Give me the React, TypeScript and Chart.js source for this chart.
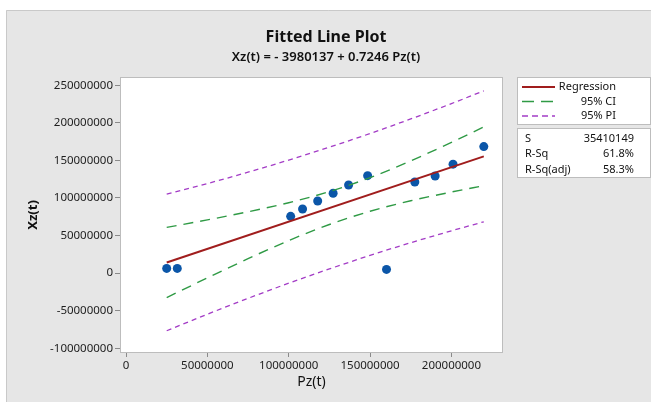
import { useEffect, useRef } from "react";
import { Chart, registerables } from "chart.js";

Chart.register(...registerables);

const pzValues = [25000000, 31500000, 101200000, 108500000, 117800000, 127300000, 136800000, 148500000, 160100000, 177500000, 190000000, 201000000, 219900000];
const xzValues = [6300000, 6300000, 75600000, 85300000, 96000000, 106300000, 117300000, 129700000, 4900000, 121300000, 129300000, 145000000, 168400000];

const fitX = [25000000, 219900000];
const fitY = [14100000, 155400000];

const bandX = [25000000, 50000000, 75000000, 100000000, 125000000, 150000000, 175000000, 200000000, 219900000];
const ciUpper = [60900000, 70800000, 81600000, 93700000, 108500000, 127100000, 149400000, 173900000, 194500000];
const ciLower = [-32600000, -6300000, 19200000, 43300000, 64700000, 82300000, 96300000, 107900000, 116400000];
const piUpper = [105000000, 119200000, 134300000, 150400000, 167600000, 185800000, 205200000, 225600000, 242600000];
const piLower = [-76700000, -54700000, -33600000, -13400000, 5600000, 23600000, 40500000, 56300000, 68300000];

const xTicks = [0, 50000000, 100000000, 150000000, 200000000];
const yTicks = [-100000000, -50000000, 0, 50000000, 100000000, 150000000, 200000000, 250000000];

const titleText = "Fitted Line Plot";
const subtitleText = "Xz(t) = - 3980137 + 0.7246 Pz(t)";
const xTitle = "Pz(t)";
const yTitle = "Xz(t)";
const legendLabels = ["Regression", "95% CI", "95% PI"];
const statLabels = ["S", "R-Sq", "R-Sq(adj)"];
const statValues = ["35410149", "61.8%", "58.3%"];

const FONT = "'Noto Sans', 'Open Sans', sans-serif";
const RED = "#a01d1d";
const GREEN = "#2f9a45";
const PURPLE = "#a33cc6";
const BLUE = "#0b56a8";

const pts = (xs: number[], ys: number[]) => xs.map((x, i) => ({ x, y: ys[i] }));

const decorPlugin = {
  id: "decor",
  beforeDraw(chart: any) {
    const ctx = chart.ctx as CanvasRenderingContext2D;
    const { width, height, chartArea: a } = chart;
    ctx.save();
    ctx.fillStyle = "#ffffff";
    ctx.fillRect(0, 0, width, height);
    ctx.fillStyle = "#e6e6e6";
    ctx.fillRect(6, 10, width - 6, height - 10);
    ctx.strokeStyle = "#c9c9c9";
    ctx.lineWidth = 1;
    ctx.beginPath();
    ctx.moveTo(6.5, height);
    ctx.lineTo(6.5, 10.5);
    ctx.lineTo(width, 10.5);
    ctx.stroke();
    ctx.fillStyle = "#ffffff";
    ctx.fillRect(a.left, a.top, a.right - a.left, a.bottom - a.top);
    ctx.strokeStyle = "#bdbdbd";
    ctx.strokeRect(a.left + 0.5, a.top + 0.5, a.right - a.left - 1, a.bottom - a.top - 1);
    ctx.restore();
  },
  afterDraw(chart: any) {
    const ctx = chart.ctx as CanvasRenderingContext2D;
    const a = chart.chartArea;
    ctx.save();
    ctx.fillStyle = "#111111";
    ctx.textAlign = "center";
    ctx.textBaseline = "middle";
    ctx.font = `bold 16px ${FONT}`;
    ctx.fillText(titleText, 326, 37);
    ctx.font = `600 13px ${FONT}`;
    ctx.fillText(subtitleText, 326, 57);

    ctx.font = `14px ${FONT}`;
    ctx.fillText(xTitle, (a.left + a.right) / 2, 382);
    ctx.save();
    ctx.translate(33, (a.top + a.bottom) / 2);
    ctx.rotate(-Math.PI / 2);
    ctx.font = `bold 13px ${FONT}`;
    ctx.fillText(yTitle, 0, 0);
    ctx.restore();

    // legend box
    const bx = 517.5, bw = 133;
    ctx.fillStyle = "#ffffff";
    ctx.strokeStyle = "#bdbdbd";
    ctx.lineWidth = 1;
    ctx.fillRect(bx, 77.5, bw, 47);
    ctx.strokeRect(bx, 77.5, bw, 47);
    ctx.fillRect(bx, 128.5, bw, 49);
    ctx.strokeRect(bx, 128.5, bw, 49);

    const rows = [87, 101.5, 116];
    const styles = [
      { c: RED, d: [] as number[], w: 2 },
      { c: GREEN, d: [12, 7], w: 1.5 },
      { c: PURPLE, d: [6, 4], w: 1.3 },
    ];
    rows.forEach((y, i) => {
      ctx.beginPath();
      ctx.strokeStyle = styles[i].c;
      ctx.lineWidth = styles[i].w;
      ctx.setLineDash(styles[i].d);
      ctx.moveTo(522, y);
      ctx.lineTo(555, y);
      ctx.stroke();
    });
    ctx.setLineDash([]);
    ctx.fillStyle = "#111111";
    ctx.font = `11px ${FONT}`;
    ctx.textAlign = "right";
    legendLabels.forEach((t, i) => ctx.fillText(t, 616, rows[i]));

    const srows = [138.5, 154, 169.5];
    statLabels.forEach((t, i) => {
      ctx.textAlign = "left";
      ctx.fillText(t, 525, srows[i]);
      ctx.textAlign = "right";
      ctx.fillText(statValues[i], 634, srows[i]);
    });
    ctx.restore();
  },
};

export default function App() {
  const ref = useRef<HTMLCanvasElement | null>(null);
  useEffect(() => {
    if (!ref.current) return;
    const tickFont = { family: FONT, size: 11.5 };
    const chart = new Chart(ref.current, {
      type: "scatter",
      data: {
        datasets: [
          {
            type: "line",
            label: "95% PI upper",
            data: pts(bandX, piUpper),
            borderColor: PURPLE,
            borderWidth: 1.3,
            borderDash: [5, 4],
            pointRadius: 0,
            cubicInterpolationMode: "monotone",
            fill: false,
          },
          {
            type: "line",
            label: "95% PI lower",
            data: pts(bandX, piLower),
            borderColor: PURPLE,
            borderWidth: 1.3,
            borderDash: [5, 4],
            pointRadius: 0,
            cubicInterpolationMode: "monotone",
            fill: false,
          },
          {
            type: "line",
            label: "95% CI upper",
            data: pts(bandX, ciUpper),
            borderColor: GREEN,
            borderWidth: 1.4,
            borderDash: [10, 7],
            pointRadius: 0,
            cubicInterpolationMode: "monotone",
            fill: false,
          },
          {
            type: "line",
            label: "95% CI lower",
            data: pts(bandX, ciLower),
            borderColor: GREEN,
            borderWidth: 1.4,
            borderDash: [10, 7],
            pointRadius: 0,
            cubicInterpolationMode: "monotone",
            fill: false,
          },
          {
            type: "line",
            label: "Regression",
            data: pts(fitX, fitY),
            borderColor: RED,
            borderWidth: 2,
            pointRadius: 0,
            fill: false,
          },
          {
            type: "scatter",
            label: "Data",
            data: pts(pzValues, xzValues),
            backgroundColor: BLUE,
            borderColor: BLUE,
            pointRadius: 4.5,
            borderWidth: 0,
          },
        ],
      } as any,
      options: {
        animation: false,
        responsive: false,
        layout: { padding: { top: 77, right: 148, bottom: 0, left: 0 } },
        plugins: { legend: { display: false }, tooltip: { enabled: false }, title: { display: false } },
        scales: {
          x: {
            type: "linear",
            min: -3700000,
            max: 231700000,
            afterBuildTicks: (s: any) => { s.ticks = xTicks.map((value) => ({ value })); },
            afterFit: (s: any) => { s.height = 49; },
            grid: { drawOnChartArea: false, drawTicks: true, tickLength: 4, color: "#8a8a8a" },
            border: { display: false },
            ticks: { callback: (v: any) => String(v), font: tickFont, color: "#1e1e1e", padding: 2, maxRotation: 0, autoSkip: false },
          },
          y: {
            type: "linear",
            min: -106300000,
            max: 261000000,
            afterBuildTicks: (s: any) => { s.ticks = yTicks.map((value) => ({ value })); },
            afterFit: (s: any) => { s.width = 120; },
            grid: { drawOnChartArea: false, drawTicks: true, tickLength: 5, color: "#8a8a8a" },
            border: { display: false },
            ticks: { callback: (v: any) => String(v), font: tickFont, color: "#1e1e1e", padding: 2, autoSkip: false },
          },
        },
      } as any,
      plugins: [decorPlugin],
    });
    return () => chart.destroy();
  }, []);
  return (
    <div style={{ position: "fixed", left: 0, top: 0, width: 651, height: 402 }}>
      <canvas ref={ref} width={651} height={402} style={{ display: "block" }} />
    </div>
  );
}
